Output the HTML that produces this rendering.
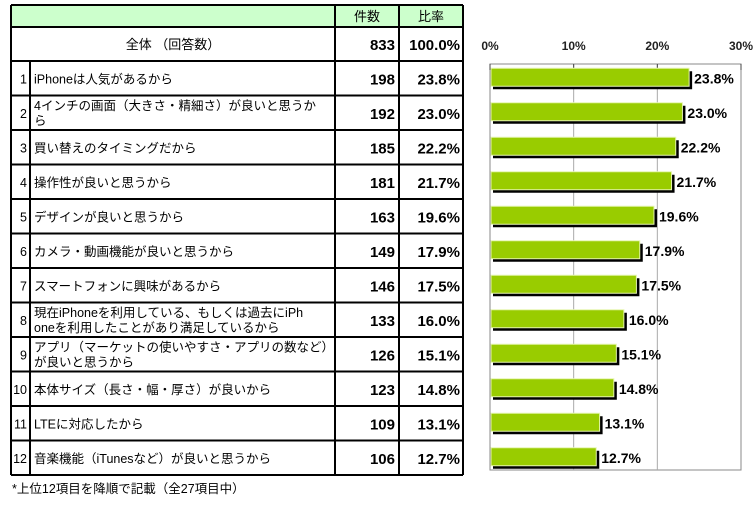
<!DOCTYPE html>
<html><head><meta charset="utf-8"><style>
html,body{margin:0;padding:0;background:#fff;width:756px;height:506px;overflow:hidden}
svg{display:block;font-family:"Liberation Sans","Noto Sans CJK JP",sans-serif}
</style></head><body>
<svg id="s" width="756" height="506" viewBox="0 0 756 506">
<g id="tbl"></g>
<g id="chart"></g>
<text x="12" y="493" font-size="12.5" fill="#000">*上位12項目を降順で記載（全27項目中）</text>
</svg>
<script>
const labels=[["iPhoneは人気があるから"],["4インチの画面（大きさ・精細さ）が良いと思うか","ら"],["買い替えのタイミングだから"],["操作性が良いと思うから"],["デザインが良いと思うから"],["カメラ・動画機能が良いと思うから"],["スマートフォンに興味があるから"],["現在iPhoneを利用している、もしくは過去にiPh","oneを利用したことがあり満足しているから"],["アプリ（マーケットの使いやすさ・アプリの数など）","が良いと思うから"],["本体サイズ（長さ・幅・厚さ）が良いから"],["LTEに対応したから"],["音楽機能（iTunesなど）が良いと思うから"]];
const counts=[198,192,185,181,163,149,146,133,126,123,109,106];
const values=[23.8,23.0,22.2,21.7,19.6,17.9,17.5,16.0,15.1,14.8,13.1,12.7];
const ticks=[0,10,20,30];
const NS="http://www.w3.org/2000/svg";
function mk(p,t,a,txt){const e=document.createElementNS(NS,t);for(const k in a)e.setAttribute(k,a[k]);if(txt!==undefined)e.textContent=txt;p.appendChild(e);return e;}
function fit(t,max){const w=t.getComputedTextLength();if(w>max){t.setAttribute('textLength',max);t.setAttribute('lengthAdjust','spacingAndGlyphs');}}
const tbl=document.getElementById('tbl'),ch=document.getElementById('chart');
const L=11,C1=30,C2=335,C3=399,R=463,H0=5,H1=27,H2=61,RH=34.5;
let e=mk(tbl,'rect',{x:L,y:H0,width:R-L,height:H1-H0,fill:'#ccffcc'});


e=mk(tbl,'text',{x:(C2+C3)/2,y:21,'font-size':13,'text-anchor':'middle'},'件数');


e=mk(tbl,'text',{x:(C3+R)/2,y:21,'font-size':13,'text-anchor':'middle'},'比率');


e=mk(tbl,'text',{x:(L+C2)/2,y:49,'font-size':13,'text-anchor':'middle'},'全体 （回答数）');


e=mk(tbl,'text',{x:C3-4,y:50,'font-size':15,'font-weight':'bold','text-anchor':'end'},'833');


e=mk(tbl,'text',{x:R-3,y:50,'font-size':15,'font-weight':'bold','text-anchor':'end'},'100.0%');


const B=H2+RH*labels.length;
const ln=(x1,y1,x2,y2,w)=>mk(tbl,'line',{x1,y1,x2,y2,stroke:'#000','stroke-width':w});
ln(L,H0,R,H0,2);ln(L,H1,R,H1,2);ln(L,H2,R,H2,2);ln(L,H0,L,B,2);ln(R,H0,R,B,2);
ln(C2,H0,C2,B,2);ln(C3,H0,C3,B,2);ln(C1,H2,C1,B,2);
labels.forEach((lb,i)=>{
  const y0=H2+RH*i,cy=y0+RH/2;
  ln(L,y0+RH,R,y0+RH,2);
  const g=mk(tbl,'g',{});
  
  
  mk(g,'text',{x:C1-3,y:cy+5,'font-size':12.5,'text-anchor':'end'},String(i+1));
  if(lb.length===1){fit(mk(g,'text',{x:C1+4,y:cy+5,'font-size':12.5},lb[0]),300);}
  else{fit(mk(g,'text',{x:C1+4,y:cy-3,'font-size':12.5},lb[0]),300);fit(mk(g,'text',{x:C1+4,y:cy+12,'font-size':12.5},lb[1]),300);}
  mk(g,'text',{x:C3-4,y:cy+6,'font-size':15,'font-weight':'bold','text-anchor':'end'},String(counts[i]));
  mk(g,'text',{x:R-3,y:cy+6,'font-size':15,'font-weight':'bold','text-anchor':'end'},values[i].toFixed(1)+'%');
});
const X0=490,X1=741,PT=64,PB=470;
const xs=v=>X0+(v/30)*(X1-X0);
mk(ch,'rect',{x:X0,y:PT,width:X1-X0,height:PB-PT,fill:'#fff',stroke:'#888','stroke-width':1});
ticks.forEach(t=>{
  if(t>0&&t<30)mk(ch,'line',{x1:xs(t),y1:PT,x2:xs(t),y2:PB,stroke:'#aaa','stroke-width':1});
  mk(ch,'line',{x1:xs(t),y1:PT,x2:xs(t),y2:PT+6,stroke:'#444','stroke-width':1});
  const tx=mk(ch,'text',{x:xs(t),y:50,'font-size':12,'font-weight':'bold','fill':'#222','text-anchor':'middle'},t+'%');
  
  
});
values.forEach((v,i)=>{
  const cy=H2+RH*i+RH/2,h=18,y=cy-h/2-1;
  const g=mk(ch,'g',{});
  
  
  mk(g,'rect',{x:X0+3,y:y+3,width:xs(v)-X0,height:h,fill:'#000'});
  mk(g,'rect',{x:X0+1,y:y,width:xs(v)-X0-1,height:h,fill:'#99cc00',stroke:'#e6f5b0','stroke-width':1});
  mk(g,'text',{x:xs(v)+5,y:cy+5,'font-size':14,'font-weight':'bold'},v.toFixed(1)+'%');
});
</script>
</body></html>
